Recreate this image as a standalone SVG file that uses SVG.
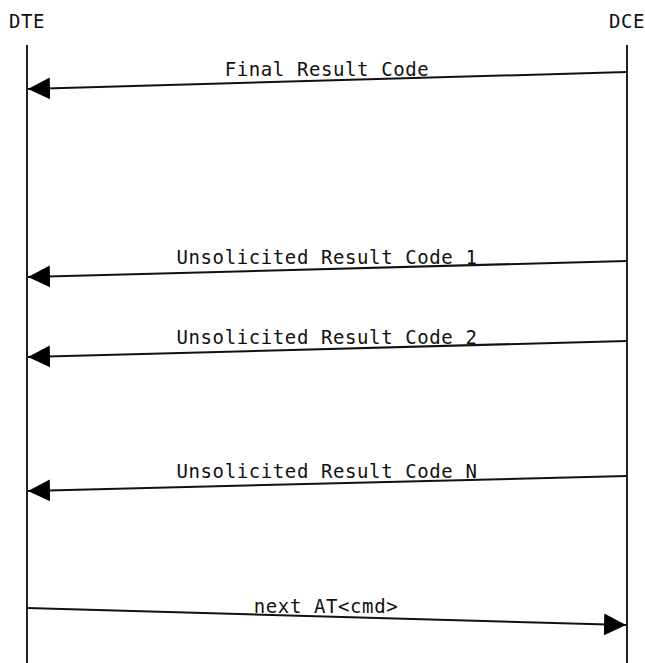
<svg xmlns="http://www.w3.org/2000/svg" width="645" height="663" viewBox="0 0 645 663">
<style>
text{font-family:"DejaVu Sans Mono","Liberation Mono",monospace;font-size:19px;letter-spacing:0.6px;fill:#111;text-anchor:middle}
.life{stroke:#222;stroke-width:2;fill:none}
.msg{stroke:#111;stroke-width:2;fill:none;marker-end:url(#ah)}
</style>
<defs>
<marker id="ah" markerUnits="userSpaceOnUse" markerWidth="22" markerHeight="22" viewBox="0 0 20 20" refX="20" refY="10" orient="auto">
<path d="M0,0 L20,10 L0,20 Z" fill="#000"/>
</marker>
</defs>
<g id="DTE">
<text x="27" y="28">DTE</text>
<line class="life" x1="27" y1="45" x2="27" y2="663"/>
</g>
<g id="DCE">
<text x="627" y="28">DCE</text>
<line class="life" x1="627" y1="45" x2="627" y2="663"/>
</g>
<g id="connectors">
<line class="msg" x1="627" y1="72" x2="28" y2="89"/>
<text x="327" y="76">Final Result Code</text>
<line class="msg" x1="627" y1="261" x2="28" y2="277"/>
<text x="327" y="264">Unsolicited Result Code 1</text>
<line class="msg" x1="627" y1="341" x2="28" y2="357"/>
<text x="327" y="344">Unsolicited Result Code 2</text>
<line class="msg" x1="627" y1="476" x2="28" y2="491"/>
<text x="327" y="478">Unsolicited Result Code N</text>
<line class="msg" x1="27" y1="608" x2="626" y2="625"/>
<text x="326" y="613">next AT&lt;cmd&gt;</text>
</g>
</svg>
